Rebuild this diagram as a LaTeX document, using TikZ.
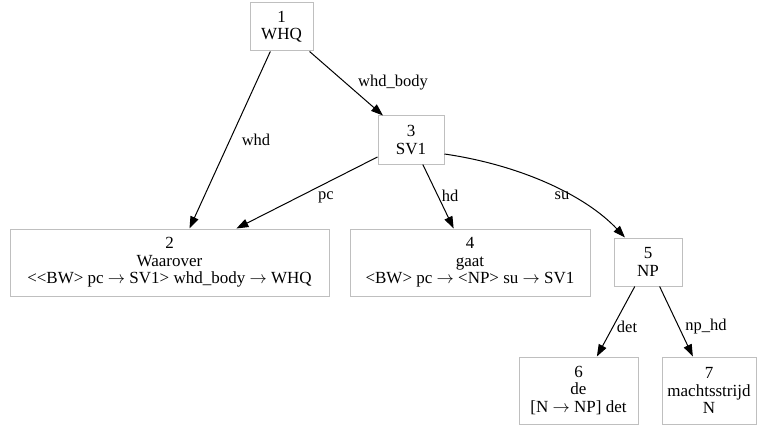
\documentclass[tikz,border=0pt]{standalone}
\usepackage{fontspec}
\setmainfont{Liberation Serif}
\usetikzlibrary{arrows.meta}
\newcommand{\ra}{$\rightarrow$}
\begin{document}
\begin{tikzpicture}[x=1pt,y=-1pt,
		box/.style={draw=gray!50, line width=1pt, align=center, inner sep=2pt, font=\fontsize{17}{17.5}\selectfont},
		lbl/.style={inner sep=1pt, font=\fontsize{16.5}{17.5}\selectfont},
		edge/.style={line width=1pt, -{Triangle[length=12pt,width=8.5pt]}}]
		\useasboundingbox (0,0) rectangle (760,433);
		\node[box, minimum width=63, minimum height=48] (n1) at (281.5,27) {1\\WHQ};
		\node[box, minimum width=66, minimum height=48] (n3) at (411,140) {3\\SV1};
		\node[box, minimum width=319, minimum height=67] (n2) at (169.5,262.5) {2\\Waarover\\<\kern0pt<BW> pc \ra{} SV1> whd\_body \ra{} WHQ};
		\node[box, minimum width=240, minimum height=67] (n4) at (470,262.5) {4\\gaat\\<BW> pc \ra{} <NP> su \ra{} SV1};
		\node[box, minimum width=68, minimum height=48] (n5) at (648,262) {5\\NP};
		\node[box, minimum width=119, minimum height=67] (n6) at (578.5,390.5) {6\\de\\{[N \ra{} NP] det}};
		\node[box, minimum width=94, minimum height=67] (n7) at (709,390.5) {7\\machtsstrijd\\N};
		% edges
		\draw[edge] (n1) -- ([xshift=20pt]n2.north) node[lbl] at (256,140) {whd};
		\draw[edge] (n1) -- (n3) node[lbl] at (393,83) {whd\_body};
		\draw[edge] (n3) -- (n2) node[lbl] at (326,197) {pc};
		\draw[edge] (n3) -- (n4) node[lbl] at (450,196) {hd};
		\draw[edge] ([yshift=-14pt]n3.east) .. controls (520,165) and (585,195) .. (n5) node[lbl] at (562,196) {su};
		\draw[edge] (n5) -- (n6) node[lbl] at (627,327) {det};
		\draw[edge] (n5) -- (n7) node[lbl] at (706,327) {np\_hd};
	\end{tikzpicture}
\end{document}
